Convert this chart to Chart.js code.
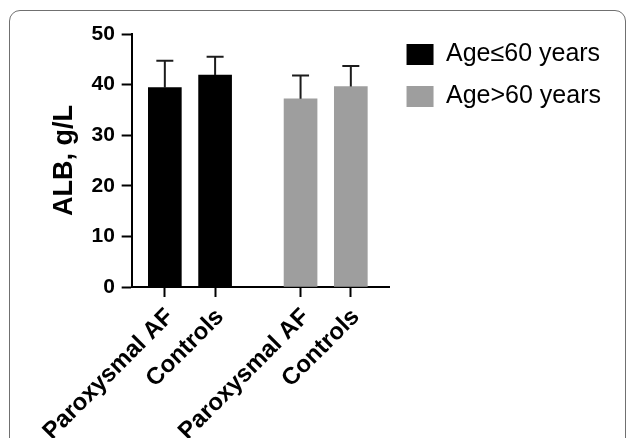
<!DOCTYPE html>
<html>
<head>
<meta charset="utf-8">
<script src="https://cdn.jsdelivr.net/npm/chart.js@4.4.1/dist/chart.umd.min.js"></script>
<style>
  html, body { margin: 0; padding: 0; background: #fff; overflow: hidden; }
  #wrap { position: relative; width: 629px; height: 438px; }
  #frame { position: absolute; left: 9px; top: 10px; width: 617px; height: 470px;
           border: 1.5px solid #707070; border-radius: 11px; box-sizing: border-box; }
  #c { position: absolute; left: 0; top: 0; }
</style>
</head>
<body>
<div id="wrap">
  <div id="frame"></div>
  <canvas id="c" width="629" height="438"></canvas>
</div>
<script>
// ---- data ----
const categories = ['Paroxysmal AF', 'Controls', 'Paroxysmal AF', 'Controls'];
const seriesLabels = ['Age\u226460 years', 'Age>60 years'];
const le60Means = [39.4, 41.9];
const le60SD    = [5.3, 3.6];
const gt60Means = [37.2, 39.6];
const gt60SD    = [4.6, 4.1];
const yTicks = [0, 10, 20, 30, 40, 50];
const yTitle = 'ALB, g/L';

// ---- layout helpers (slot positions on the x scale) ----
const groupGap = 0.7;
const slot = (g, i) => g * (2 + groupGap) + i;
const slots = [slot(0,0), slot(0,1), slot(1,0), slot(1,1)];

const ds1 = le60Means.map((v, i) => ({x: slot(0, i), y: v, sd: le60SD[i]}));
const ds2 = gt60Means.map((v, i) => ({x: slot(1, i), y: v, sd: gt60SD[i]}));

const FONT = "'Liberation Sans', Arial, Helvetica, sans-serif";

const errorBars = {
  id: 'errorBars',
  afterDatasetsDraw(chart) {
    const ctx = chart.ctx;
    const yS = chart.scales.y;
    ctx.save();
    ctx.strokeStyle = '#1c1c1c';
    ctx.lineWidth = 2;
    chart.data.datasets.forEach((ds, di) => {
      const meta = chart.getDatasetMeta(di);
      meta.data.forEach((el, i) => {
        const d = ds.data[i];
        const x = el.x;
        const yTop = yS.getPixelForValue(d.y + d.sd);
        const yBase = yS.getPixelForValue(d.y);
        ctx.beginPath();
        ctx.moveTo(x, yBase);
        ctx.lineTo(x, yTop);
        ctx.moveTo(x - 8.5, yTop);
        ctx.lineTo(x + 8.5, yTop);
        ctx.stroke();
      });
    });
    ctx.restore();
  }
};

const chart = new Chart(document.getElementById('c'), {
  type: 'bar',
  data: {
    datasets: [
      { label: seriesLabels[0], data: ds1, backgroundColor: '#000000', borderWidth: 0, grouped: false, barThickness: 33 },
      { label: seriesLabels[1], data: ds2, backgroundColor: '#9e9e9e', borderWidth: 0, grouped: false, barThickness: 33 }
    ]
  },
  options: {
    responsive: false,
    animation: false,
    devicePixelRatio: 1,
    layout: { padding: { left: 39.5, top: 25, right: 18, bottom: 0 } },
    plugins: {
      tooltip: { enabled: false },
      legend: {
        position: 'right',
        align: 'start',
        maxWidth: 260,
        labels: {
          boxWidth: 27, boxHeight: 21, padding: 17,
          color: '#000',
          font: { family: FONT, size: 25 }
        }
      }
    },
    scales: {
      x: {
        type: 'linear',
        offset: false,
        min: -0.66, max: 4.47,
        afterBuildTicks: s => { s.ticks = slots.map(v => ({ value: v })); },
        afterFit: s => { s.height = 151; },
        grid: { display: true, offset: false, drawOnChartArea: false, drawTicks: true, tickLength: 10, tickWidth: 2, tickColor: '#000' },
        border: { display: true, color: '#000', width: 2 },
        ticks: {
          autoSkip: false,
          minRotation: 45, maxRotation: 45,
          padding: 6,
          labelOffset: 5,
          color: '#000',
          font: { family: FONT, size: 24, weight: 'bold' },
          callback: (v, i) => categories[i]
        }
      },
      y: {
        min: 0, max: 50,
        afterBuildTicks: s => { s.ticks = yTicks.map(v => ({ value: v })); },
        afterFit: s => { s.paddingTop = 34; },
        grid: { display: true, drawOnChartArea: false, drawTicks: true, tickLength: 10, tickWidth: 2, tickColor: '#000' },
        border: { display: true, color: '#000', width: 2 },
        ticks: {
          padding: 6.7,
          color: '#000',
          font: { family: FONT, size: 21, weight: 'bold' }
        },
        title: {
          display: true, text: yTitle, color: '#000',
          padding: { top: 9.3, bottom: 3.7 },
          font: { family: FONT, size: 27, weight: 'bold' }
        }
      }
    }
  },
  plugins: [errorBars]
});
</script>
</body>
</html>
